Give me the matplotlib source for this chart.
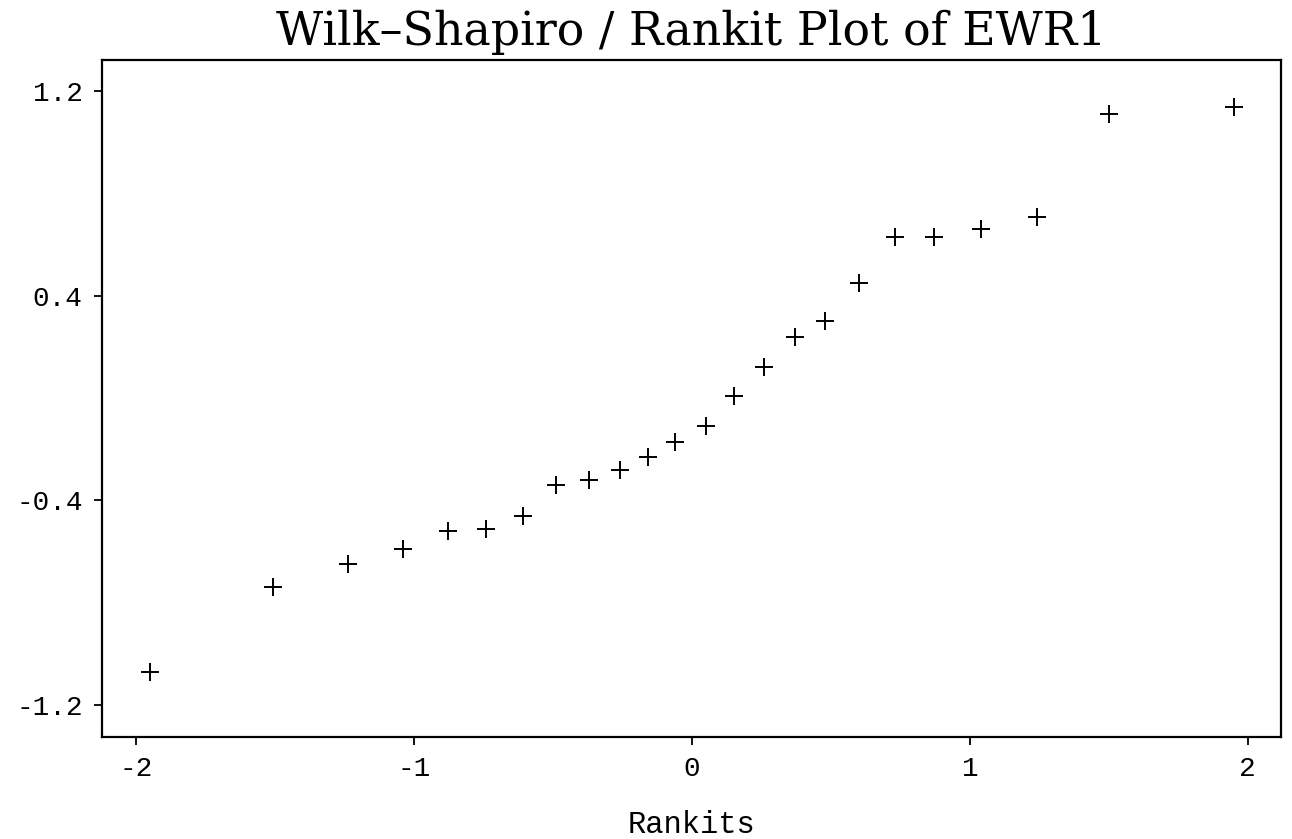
import matplotlib
matplotlib.use("Agg")
import matplotlib.pyplot as plt

# Data
rankits = [-1.95, -1.51, -1.24, -1.04, -0.88, -0.74, -0.61, -0.49, -0.37, -0.26,
           -0.16, -0.06, 0.05, 0.15, 0.26, 0.37, 0.48, 0.60, 0.73, 0.87,
           1.04, 1.24, 1.50, 1.95]
ewr1 = [-1.07, -0.74, -0.65, -0.59, -0.52, -0.51, -0.46, -0.34, -0.32, -0.28,
        -0.23, -0.17, -0.11, 0.01, 0.12, 0.24, 0.30, 0.45, 0.63, 0.63,
        0.66, 0.71, 1.11, 1.14]
xticks = [-2, -1, 0, 1, 2]
xticklabels = ["-2", "-1", "0", "1", "2"]
yticks = [-1.2, -0.4, 0.4, 1.2]
yticklabels = ["-1.2", "-0.4", "0.4", "1.2"]

W, H = 1292, 839
fig = plt.figure(figsize=(W / 100, H / 100), dpi=100)
ax = fig.add_axes([102 / W, 1 - 737 / H, 1179 / W, 677 / H])

ax.plot(rankits, ewr1, linestyle="none", marker="+", markersize=13,
        markeredgewidth=1.4, color="black")

ax.set_xlim(-2.124, 2.12)
ax.set_ylim(-1.325, 1.322)
ax.set_xticks(xticks)
ax.set_xticklabels(xticklabels)
ax.set_yticks(yticks)
ax.set_yticklabels(yticklabels)

mono = "Liberation Mono"
for lab in ax.get_xticklabels() + ax.get_yticklabels():
    lab.set_fontfamily(mono)
    lab.set_fontsize(20)

ax.tick_params(axis="x", direction="out", length=6, width=1.3, pad=8)
ax.tick_params(axis="y", direction="out", length=6, width=1.3, pad=8)
for sp in ax.spines.values():
    sp.set_linewidth(1.6)
    sp.set_color("black")

ax.set_xlabel("Rankits", fontfamily=mono, fontsize=22, labelpad=20)
ax.set_title("Wilk\u2013Shapiro / Rankit Plot of EWR1", fontfamily="DejaVu Serif",
             fontsize=33, pad=11)

fig.savefig("out.png", dpi=100, facecolor="white")
